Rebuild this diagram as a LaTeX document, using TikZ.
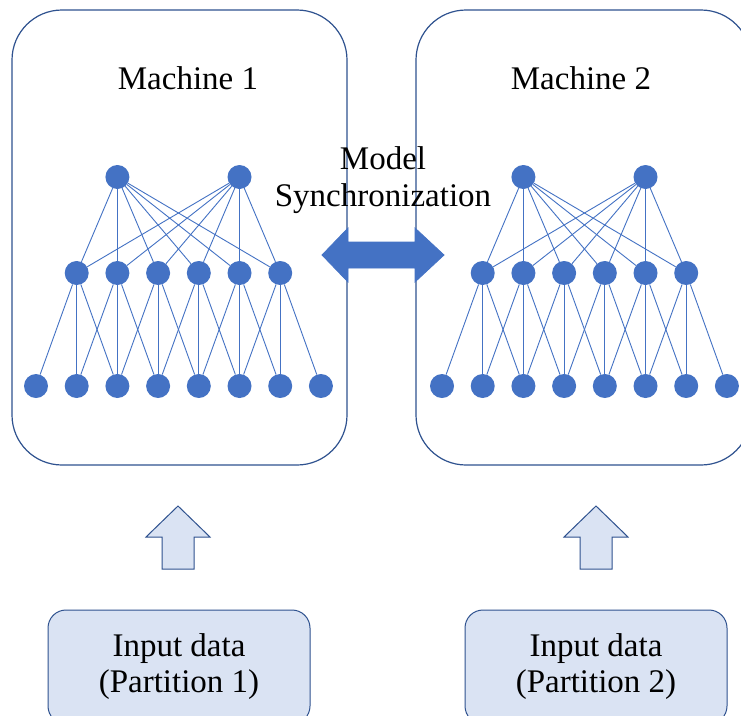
\documentclass[tikz,border=0pt]{standalone}
\usepackage{fontspec}
\setmainfont{Liberation Serif}
\definecolor{accent}{HTML}{4472C4}
\definecolor{edgeblue}{HTML}{2F528F}
\definecolor{pale}{HTML}{DAE3F3}

\begin{document}
\begin{tikzpicture}[x=1pt,y=-1pt,
  machine/.style={draw=edgeblue, line width=1.2pt, rounded corners=50pt, fill=white,
                  minimum width=335pt, minimum height=455pt, inner sep=0pt},
  neuron/.style={circle, fill=accent, minimum size=24pt, inner sep=0pt},
  link/.style={draw=accent, line width=0.9pt},
  txt/.style={font=\fontsize{33}{36}\selectfont, inner sep=0pt, anchor=base},
  inbox/.style={draw=edgeblue, line width=1pt, fill=pale, rounded corners=18pt,
                minimum width=262pt, minimum height=114pt, align=center,
                font=\fontsize{33}{36}\selectfont},
  feed/.style={draw=edgeblue, line width=1pt, fill=pale, line join=miter},
  syncarrow/.style={fill=accent, draw=accent, line width=0.8pt, line join=miter}
]
\useasboundingbox (0,0) rectangle (741,715);
\fill[white] (0,0) rectangle (741,715);
\clip (0,0) rectangle (741,715);

% machine frames
\node[machine] (mach1) at (179.5,237.5) {};
\node[machine] (mach2) at (583.5,237.5) {};
\node[txt] (title1) at (188,89) {Machine 1};
\node[txt] (title2) at (581,89) {Machine 2};

% two identical networks, one per machine
\foreach \net/\ox in {a/36, b/442} {
  \foreach \i in {0,...,7}
    \node[neuron] (\net-b\i) at (\ox+40.7*\i, 386) {};
  \foreach \i in {1,...,6}
    \node[neuron] (\net-m\i) at (\ox+40.7*\i, 273) {};
  \node[neuron] (\net-t1) at (\ox+40.7*2, 177) {};
  \node[neuron] (\net-t2) at (\ox+40.7*5, 177) {};
  \foreach \j in {1,...,6} {
    \draw[link] (\net-t1) -- (\net-m\j);
    \draw[link] (\net-t2) -- (\net-m\j);
    \pgfmathtruncatemacro\lo{\j-1}
    \pgfmathtruncatemacro\hi{\j+1}
    \draw[link] (\net-m\j) -- (\net-b\lo);
    \draw[link] (\net-m\j) -- (\net-b\j);
    \draw[link] (\net-m\j) -- (\net-b\hi);
  }
}

% synchronization label and double arrow
\node[txt] (synca) at (383,169) {Model};
\node[txt] (syncb) at (383,206) {Synchronization};
\draw[syncarrow] (322,255) -- (348,228) -- (348,242) -- (415,242) -- (415,228)
  -- (444,255) -- (415,282) -- (415,268) -- (348,268) -- (348,282) -- cycle;

% input partitions
\node[inbox] (in1) at (179,667) {Input data\\(Partition 1)};
\node[inbox] (in2) at (596,667) {Input data\\(Partition 2)};

% feed arrows
\foreach \cx in {178,596}
  \draw[feed, shift={(\cx,0)}] (0,506) -- (32,537) -- (16,537) -- (16,569)
    -- (-16,569) -- (-16,537) -- (-32,537) -- cycle;
\end{tikzpicture}
\end{document}
